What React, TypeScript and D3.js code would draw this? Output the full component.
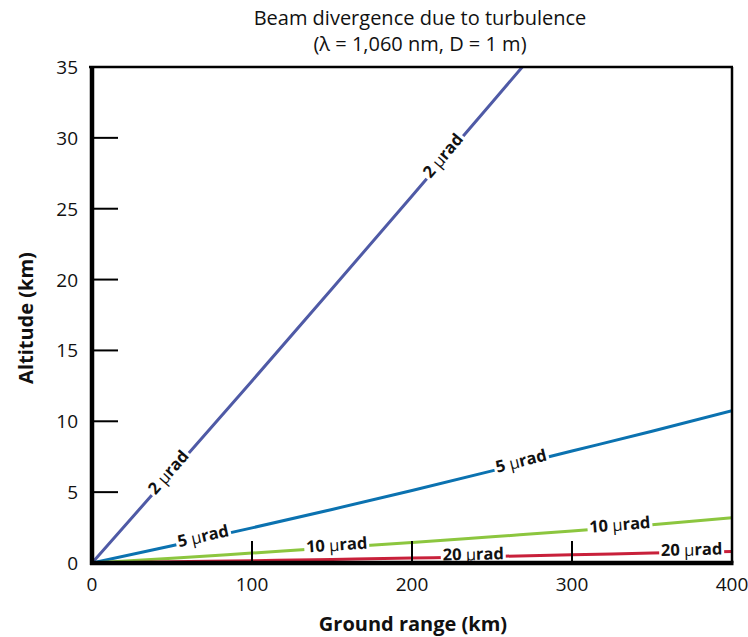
import React from "react";
import * as d3 from "d3";

const rangeKm = [0, 50, 100, 150, 200, 250, 300, 350, 400];
const alt2 = [0, 6.4, 12.85, 19.35, 25.9, 32.5, 39.1, 45.7, 52.3];
const alt5 = [0, 1.22, 2.48, 3.78, 5.12, 6.5, 7.9, 9.3, 10.75];
const alt10 = [0, 0.33, 0.7, 1.07, 1.45, 1.85, 2.25, 2.7, 3.2];
const alt20 = [0, 0.08, 0.16, 0.25, 0.35, 0.46, 0.58, 0.7, 0.82];

const seriesNames = ["2", "5", "10", "20"];
const seriesColors = ["#4f5aa6", "#0b72b0", "#8cc63f", "#c8203a"];
const labelPositions = [[49, 220.6], [69.8, 268.6], [153, 330], [238.3, 374.8]];

const xTicks = [0, 100, 200, 300, 400];
const yTicks = [0, 5, 10, 15, 20, 25, 30, 35];

const W = 748;
const H = 637;
const FONT = "'Open Sans', 'Noto Sans', sans-serif";

export default function App() {
  const x = d3.scaleLinear().domain([0, 400]).range([92, 732]);
  const y = d3.scaleLinear().domain([0, 35]).range([563, 67]);
  const allSeries = [alt2, alt5, alt10, alt20];

  const line = d3
    .line<number>()
    .x((_, i) => x(rangeKm[i]))
    .y((d) => y(d))
    .curve(d3.curveMonotoneX);

  const interp = (vals: number[], km: number) => {
    const s = d3.scaleLinear().domain(rangeKm).range(vals);
    return s(km);
  };

  const labelWidth = (name: string) => (name.length === 1 ? 56 : 65);

  return (
    <svg
      width={W}
      height={H}
      style={{ position: "absolute", left: 0, top: 0, background: "#fff" }}
      fontFamily={FONT}
    >
      <defs>
        <clipPath id="plotClip">
          <rect x={x(0)} y={y(35)} width={x(400) - x(0)} height={y(0) - y(35)} />
        </clipPath>
      </defs>

      {/* title */}
      <text x={420} y={25} textAnchor="middle" fontSize={20} fill="#111">
        Beam divergence due to turbulence
      </text>
      <text x={420} y={51} textAnchor="middle" fontSize={20} fill="#111">
        (λ = 1,060 nm, D = 1 m)
      </text>

      {/* series lines */}
      <g clipPath="url(#plotClip)">
        {allSeries.map((vals, si) => (
          <path
            key={si}
            d={line(vals) || ""}
            fill="none"
            stroke={seriesColors[si]}
            strokeWidth={3}
          />
        ))}
      </g>

      {/* labels on lines */}
      {allSeries.map((vals, si) =>
        labelPositions[si].map((km, li) => {
          const px = x(km);
          const py = y(interp(vals, km));
          const p1x = x(km - 5);
          const p1y = y(interp(vals, km - 5));
          const p2x = x(km + 5);
          const p2y = y(interp(vals, km + 5));
          const ang = (Math.atan2(p2y - p1y, p2x - p1x) * 180) / Math.PI;
          const w = labelWidth(seriesNames[si]);
          return (
            <g key={`${si}-${li}`} transform={`translate(${px},${py}) rotate(${ang})`}>
              <rect x={-w / 2} y={-11} width={w} height={19} fill="#fff" />
              <text
                x={0}
                y={-3.5}
                textAnchor="middle"
                dominantBaseline="central"
                fontSize={16.5}
                fontWeight="bold"
                fill="#111"
              >
                {seriesNames[si]}{" "}
                <tspan fontWeight="normal">μ</tspan>rad
              </text>
            </g>
          );
        })
      )}

      {/* frame: top and right thin */}
      <line x1={x(0) - 3} x2={x(400) + 1} y1={y(35)} y2={y(35)} stroke="#000" strokeWidth={2.5} />
      <line x1={x(400)} x2={x(400)} y1={y(35)} y2={y(0)} stroke="#000" strokeWidth={2.5} />

      {/* y ticks */}
      {yTicks.map((t) => (
        <g key={`y${t}`}>
          {t > 0 && t < 35 && (
            <line x1={x(0)} x2={x(0) + 26} y1={y(t)} y2={y(t)} stroke="#000" strokeWidth={2} />
          )}
          <text
            x={78}
            y={y(t)}
            textAnchor="end"
            dominantBaseline="central"
            fontSize={19}
            fill="#111"
          >
            {t}
          </text>
        </g>
      ))}

      {/* x ticks */}
      {xTicks.map((t) => (
        <g key={`x${t}`}>
          {t > 0 && t < 400 && (
            <line x1={x(t)} x2={x(t)} y1={y(0)} y2={y(0) - 22} stroke="#000" strokeWidth={2} />
          )}
          <text
            x={x(t)}
            y={584}
            textAnchor="middle"
            dominantBaseline="central"
            fontSize={19}
            fill="#111"
          >
            {t}
          </text>
        </g>
      ))}

      {/* thick axes */}
      <line x1={x(0)} x2={x(0)} y1={y(35) - 1} y2={y(0) + 2} stroke="#000" strokeWidth={4.5} />
      <line x1={x(0) - 2} x2={x(400) + 1.5} y1={y(0)} y2={y(0)} stroke="#000" strokeWidth={4.5} />

      {/* axis titles */}
      <text
        x={413}
        y={623}
        textAnchor="middle"
        dominantBaseline="central"
        fontSize={20}
        fontWeight="bold"
        fill="#111"
      >
        Ground range (km)
      </text>
      <text
        transform={`translate(25,318) rotate(-90)`}
        textAnchor="middle"
        dominantBaseline="central"
        fontSize={20}
        fontWeight="bold"
        fill="#111"
      >
        Altitude (km)
      </text>
    </svg>
  );
}
